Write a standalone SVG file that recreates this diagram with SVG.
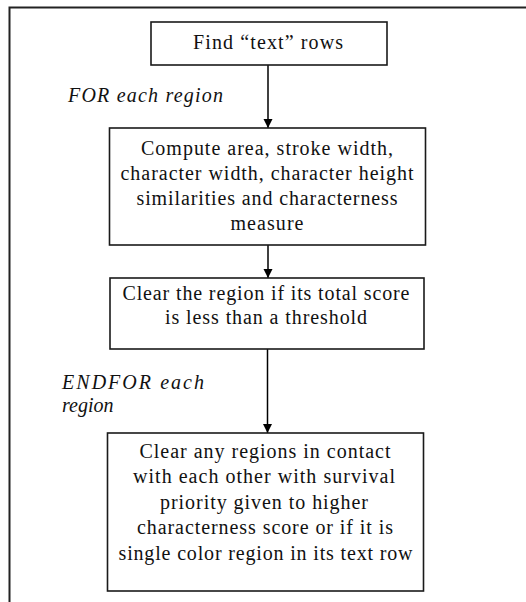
<svg xmlns="http://www.w3.org/2000/svg" width="526" height="602" viewBox="0 0 526 602">
<defs>
<marker id="ah" markerUnits="userSpaceOnUse" markerWidth="10" markerHeight="10" viewBox="0 0 10 10" refX="9" refY="5" orient="auto">
<path d="M0,0.5 L9,5 L0,9.5 Z" fill="#000"/>
</marker>
<style>
.box{fill:#fff;stroke:#1a1a1a;stroke-width:1.6}
.t{font-family:"Liberation Serif","Times New Roman",serif;font-size:20px;fill:#111;text-anchor:middle}
.lbl{font-family:"Liberation Serif","Times New Roman",serif;font-size:20px;font-style:italic;fill:#111}
.c{stroke:#000;stroke-width:1.5;fill:none;marker-end:url(#ah)}
.frame{stroke:#222;stroke-width:2;fill:none}
</style>
</defs>
<path class="frame" d="M9.5,602 L9.5,7.5 L526,7.5"/>
<g id="connectors">
<line class="c" x1="268" y1="65" x2="268" y2="128"/>
<line class="c" x1="268" y1="245" x2="268" y2="278"/>
<line class="c" x1="267.5" y1="349" x2="267.5" y2="433"/>
</g>
<g id="lbl-for">
<text class="lbl" x="68" y="102" textLength="155" lengthAdjust="spacing">FOR each region</text>
</g>
<g id="lbl-endfor">
<text class="lbl" x="62" y="389" textLength="142" lengthAdjust="spacing">ENDFOR each</text>
<text class="lbl" x="62" y="412">region</text>
</g>
<g id="n1">
<rect class="box" x="151" y="22" width="236" height="43"/>
<text class="t" x="268" y="49" textLength="150" lengthAdjust="spacing">Find “text” rows</text>
</g>
<g id="n2">
<rect class="box" x="109.5" y="128" width="316" height="117"/>
<text class="t" x="267" y="155" textLength="252" lengthAdjust="spacing">Compute area, stroke width,</text>
<text class="t" x="267" y="180" textLength="293" lengthAdjust="spacing">character width, character height</text>
<text class="t" x="267" y="205" textLength="261" lengthAdjust="spacing">similarities and characterness</text>
<text class="t" x="267" y="230" textLength="73" lengthAdjust="spacing">measure</text>
</g>
<g id="n3">
<rect class="box" x="110" y="278" width="314" height="71"/>
<text class="t" x="266" y="300" textLength="287" lengthAdjust="spacing">Clear the region if its total score</text>
<text class="t" x="266" y="324" textLength="202" lengthAdjust="spacing">is less than a threshold</text>
</g>
<g id="n4">
<rect class="box" x="107.5" y="433" width="316" height="158"/>
<text class="t" x="265" y="458" textLength="251" lengthAdjust="spacing">Clear any regions in contact</text>
<text class="t" x="264" y="483" textLength="262" lengthAdjust="spacing">with each other with survival</text>
<text class="t" x="264" y="509" textLength="208" lengthAdjust="spacing">priority given to higher</text>
<text class="t" x="265" y="534" textLength="256" lengthAdjust="spacing">characterness score or if it is</text>
<text class="t" x="265.5" y="560" textLength="294" lengthAdjust="spacing">single color region in its text row</text>
</g>
</svg>
